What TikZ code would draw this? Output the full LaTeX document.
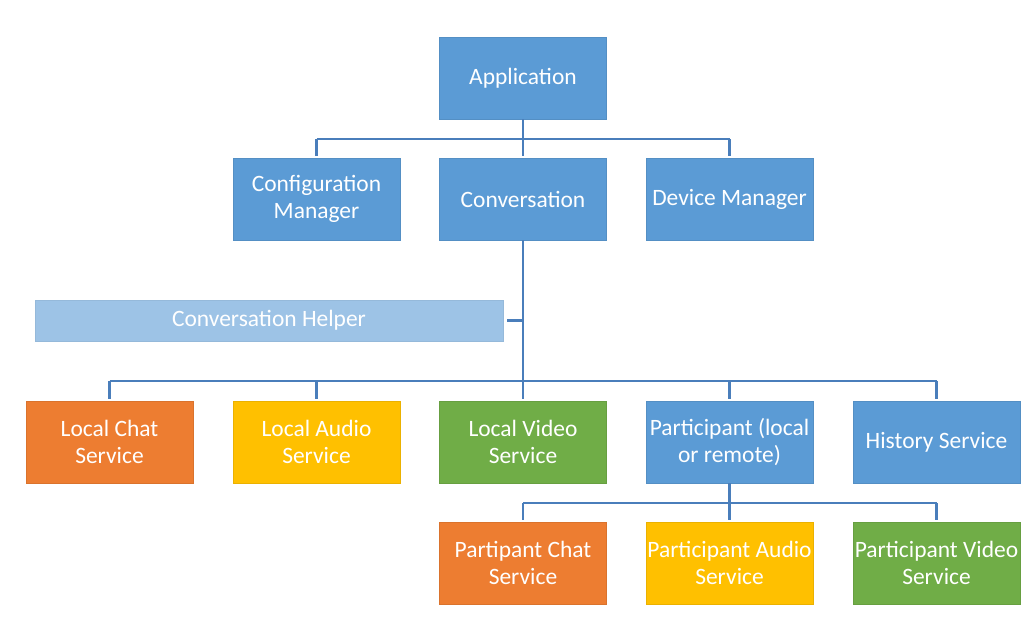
\documentclass[tikz,border=0pt]{standalone}
\usepackage{fontspec}
\setmainfont{Carlito}
\definecolor{cblue}{HTML}{5B9BD5}
\definecolor{corange}{HTML}{ED7D31}
\definecolor{cyellow}{HTML}{FFC000}
\definecolor{cgreen}{HTML}{70AD47}
\definecolor{clight}{HTML}{9DC3E6}
\definecolor{cline}{HTML}{4A7EBB}
\begin{document}
\begin{tikzpicture}[x=0.75pt,y=-0.75pt,
  box/.style={rectangle, minimum width=125.25pt, minimum height=61.5pt, inner sep=1pt,
    text=white, align=center, font=\fontsize{17.6}{20.3}\selectfont, draw=#1!92!black, line width=0.3pt, fill=#1},
  helperbox/.style={rectangle, minimum width=351pt, minimum height=30.75pt, inner sep=0pt,
    text=white, font=\fontsize{17.6}{20.3}\selectfont, fill=clight, draw=clight!95!black, line width=0.3pt},
  conn/.style={cline, line width=1.6pt},
  drop/.style={conn, shorten >=1.5pt}]
\useasboundingbox (0,0) rectangle (1036,621);
% row 1
\node[box=cblue] (app) at (523,78) {Application};
% row 2
\node[box=cblue] (cfg) at (316.5,199) {Configuration\\Manager};
\node[box=cblue] (conv) at (523,199) {Conversation};
\node[box=cblue] (dev) at (729.5,199) {Device Manager};
% helper
\node[helperbox] (help) at (269,320.5) {Conversation Helper};
% row 3
\node[box=corange] (lchat) at (109.5,442) {Local Chat\\Service};
\node[box=cyellow] (laudio) at (316.5,442) {Local Audio\\Service};
\node[box=cgreen] (lvideo) at (523,442) {Local Video\\Service};
\node[box=cblue] (part) at (729.5,442) {Participant (local\\or remote)};
\node[box=cblue] (hist) at (936.5,442) {History Service};
% row 4
\node[box=corange] (pchat) at (523,563) {Partipant Chat\\Service};
\node[box=cyellow] (paudio) at (729.5,563) {Participant Audio\\Service};
\node[box=cgreen] (pvideo) at (936.5,563) {Participant Video\\Service};
% connectors app
\coordinate (b1) at (523,139);
\draw[conn] (app.south) -- (b1);
\draw[drop] (cfg.north |- b1) -- (cfg.north);
\draw[drop] (b1) -- (conv.north);
\draw[drop] (dev.north |- b1) -- (dev.north);
\draw[conn] (cfg.north |- b1) -- (dev.north |- b1);
% connectors conversation
\coordinate (b2) at (523,381);
\draw[conn] (conv.south) -- (b2);
\draw[conn] ([xshift=3pt]help.east) -- (conv.south |- help.east);
\draw[conn] (lchat.north |- b2) -- (hist.north |- b2);
\draw[drop] (lchat.north |- b2) -- (lchat.north);
\draw[drop] (laudio.north |- b2) -- (laudio.north);
\draw[drop] (b2) -- (lvideo.north);
\draw[drop] (part.north |- b2) -- (part.north);
\draw[drop] (hist.north |- b2) -- (hist.north);
% connectors participant
\coordinate (b3) at (729.5,503);
\draw[conn] (part.south) -- (b3);
\draw[conn] (pchat.north |- b3) -- (pvideo.north |- b3);
\draw[drop] (pchat.north |- b3) -- (pchat.north);
\draw[drop] (b3) -- (paudio.north);
\draw[drop] (pvideo.north |- b3) -- (pvideo.north);
\end{tikzpicture}
\end{document}
